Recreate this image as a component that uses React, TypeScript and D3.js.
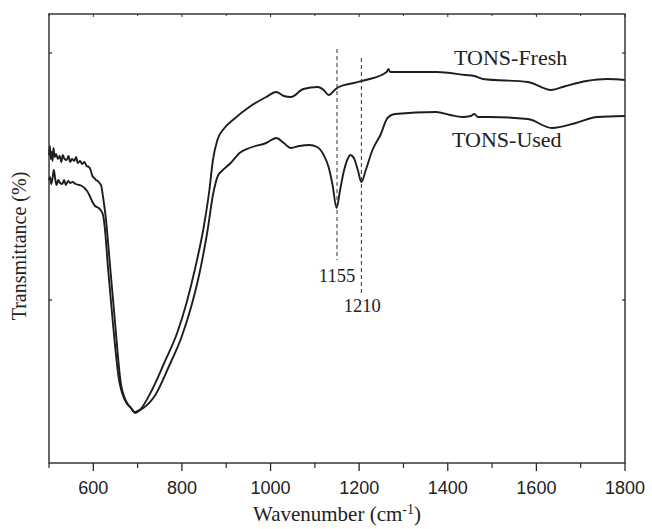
import React from 'react';
import * as d3 from 'd3';

// Wavenumber (cm-1) and transmittance (arbitrary %)
const freshWave = [500,502,504,506,508,510,513,516,520,524,528,531,535,540,544,548,552,557,561,565,570,575,580,585,590,594,598,602,606,610,614,618,622,628,638,648,662,675,685,695,705,730,760,790,811,830,850,862,870,880,896,915,952,990,1013,1030,1046,1074,1107,1120,1131,1145,1154,1187,1215,1262,1266,1270,1375,1440,1460,1479,1581,1633,1666,1713,1760,1800];
const freshT = [69.0,70.8,68.2,69.6,67.8,70.4,68.6,69.2,68.2,68.8,67.6,69.0,68.2,68.0,68.8,67.6,68.2,67.8,68.6,67.4,67.8,67.2,67.6,66.8,66.6,66.0,64.8,64.4,64.0,63.8,63.4,62.8,60.6,56.6,46.6,36.6,23.4,19.6,18.4,17.4,18.0,21.6,27.4,33.6,39.6,46.4,55.0,62.0,68.0,72.0,74.4,76.0,78.6,80.6,81.6,80.8,80.6,82.2,82.6,82.0,81.0,82.0,82.6,83.4,84.0,85.6,86.2,85.6,85.6,85.0,84.8,84.2,83.6,82.0,82.8,83.8,84.2,84.0];

const usedWave = [500,502,505,508,511,514,517,521,525,530,534,538,543,548,553,560,568,574,580,586,592,598,604,612,618,622,626,633,643,657,671,685,693,700,713,740,770,800,822,840,858,870,882,890,910,930,952,990,1013,1030,1046,1065,1088,1105,1120,1131,1140,1149,1157,1165,1175,1180,1188,1197,1205,1215,1230,1248,1264,1281,1374,1405,1433,1452,1460,1468,1494,1581,1635,1689,1737,1800];
const usedT = [64.0,64.6,63.2,64.4,66.0,64.2,63.0,64.0,63.4,63.2,64.0,63.0,63.8,63.4,63.6,63.2,63.0,62.8,62.4,61.8,60.8,59.6,58.8,58.4,57.8,57.0,54.4,46.6,36.6,24.6,20.0,18.4,17.6,17.8,18.4,21.0,26.6,32.8,39.0,45.5,54.0,61.0,65.0,65.8,67.4,69.4,70.4,71.4,72.4,71.4,70.4,70.8,71.0,70.6,69.0,66.6,63.0,58.4,62.0,65.6,68.4,69.0,68.4,66.0,63.6,66.0,70.0,73.0,76.4,77.2,77.6,77.0,76.6,76.8,77.2,76.6,76.6,76.2,74.4,75.4,76.6,76.8];

const xMajorTicks = [600, 800, 1000, 1200, 1400, 1600, 1800];
const xMinorTicks = [500, 700, 900, 1100, 1300, 1500, 1700];
const yTicks = [40, 89.4];
const markerWave = [1150, 1205];
const markerLabels = ['1155', '1210'];
const seriesNames = ['TONS-Fresh', 'TONS-Used'];

const W = 652, H = 529;
const L = 49, R = 625, T = 14, B = 463;

export default function App() {
  const x = d3.scaleLinear().domain([500, 1800]).range([L, R]);
  const y = d3.scaleLinear().domain([7.4, 97.2]).range([B, T]);
  const line = d3.line<[number, number]>()
    .x(d => x(d[0]))
    .y(d => y(d[1]))
    .curve(d3.curveMonotoneX);
  const fresh = line(freshWave.map((w, i) => [w, freshT[i]] as [number, number])) || '';
  const used = line(usedWave.map((w, i) => [w, usedT[i]] as [number, number])) || '';
  const serif = '"Liberation Serif", "Times New Roman", serif';
  const sans = '"Liberation Sans", Arial, sans-serif';
  const ink = '#1e1e1e';
  return (
    <svg width={W} height={H} style={{ position: 'absolute', left: 0, top: 0, background: '#fff' }}>
      <rect x={0} y={0} width={W} height={H} fill="#fff" />
      {/* curves */}
      <path d={fresh} fill="none" stroke={ink} strokeWidth={1.9} strokeLinejoin="round" />
      <path d={used} fill="none" stroke={ink} strokeWidth={1.9} strokeLinejoin="round" />
      {/* frame */}
      <rect x={L} y={T} width={R - L} height={B - T} fill="none" stroke="#2a2a2a" strokeWidth={1.4} />
      {/* bottom ticks */}
      {xMajorTicks.map(t => (
        <g key={'M' + t}>
          <line x1={x(t)} x2={x(t)} y1={B} y2={B + 8} stroke="#2a2a2a" strokeWidth={1.3} />
          <line x1={x(t)} x2={x(t)} y1={T} y2={T + 3} stroke="#2a2a2a" strokeWidth={1} />
          <text x={x(t)} y={494} textAnchor="middle" fontFamily={sans} fontSize={18} fill="#222">{t}</text>
        </g>
      ))}
      {xMinorTicks.map(t => (
        <g key={'m' + t}>
          <line x1={x(t)} x2={x(t)} y1={B} y2={B + 5} stroke="#2a2a2a" strokeWidth={1.2} />
          <line x1={x(t)} x2={x(t)} y1={T} y2={T + 2} stroke="#2a2a2a" strokeWidth={1} />
        </g>
      ))}
      {yTicks.map(t => (
        <g key={'y' + t}>
          <line x1={L} x2={L + 3} y1={y(t)} y2={y(t)} stroke="#2a2a2a" strokeWidth={1.2} />
          <line x1={R} x2={R - 3} y1={y(t)} y2={y(t)} stroke="#2a2a2a" strokeWidth={1.2} />
        </g>
      ))}
      {/* markers */}
      <line x1={x(markerWave[0])} x2={x(markerWave[0])} y1={49} y2={260} stroke="#333" strokeWidth={1} strokeDasharray="4,3" />
      <line x1={x(markerWave[1])} x2={x(markerWave[1])} y1={58} y2={295} stroke="#333" strokeWidth={1} strokeDasharray="4,3" />
      <text x={x(markerWave[0])} y={282} textAnchor="middle" fontFamily={serif} fontSize={18.5} fill="#222">{markerLabels[0]}</text>
      <text x={x(markerWave[1]) + 1} y={312} textAnchor="middle" fontFamily={serif} fontSize={18.5} fill="#222">{markerLabels[1]}</text>
      {/* series labels */}
      <text x={454} y={65} fontFamily={serif} fontSize={22} fill="#222">{seriesNames[0]}</text>
      <text x={452} y={147} fontFamily={serif} fontSize={22} fill="#222">{seriesNames[1]}</text>
      {/* axis titles */}
      <text x={(L + R) / 2} y={521} textAnchor="middle" fontFamily={serif} fontSize={21} fill="#222">
        Wavenumber (cm<tspan dy={-7} fontSize={14}>-1</tspan><tspan dy={7}>)</tspan>
      </text>
      <text transform={`translate(26, 246) rotate(-90)`} textAnchor="middle" fontFamily={serif} fontSize={20} fill="#222">
        Transmittance (%)
      </text>
    </svg>
  );
}
